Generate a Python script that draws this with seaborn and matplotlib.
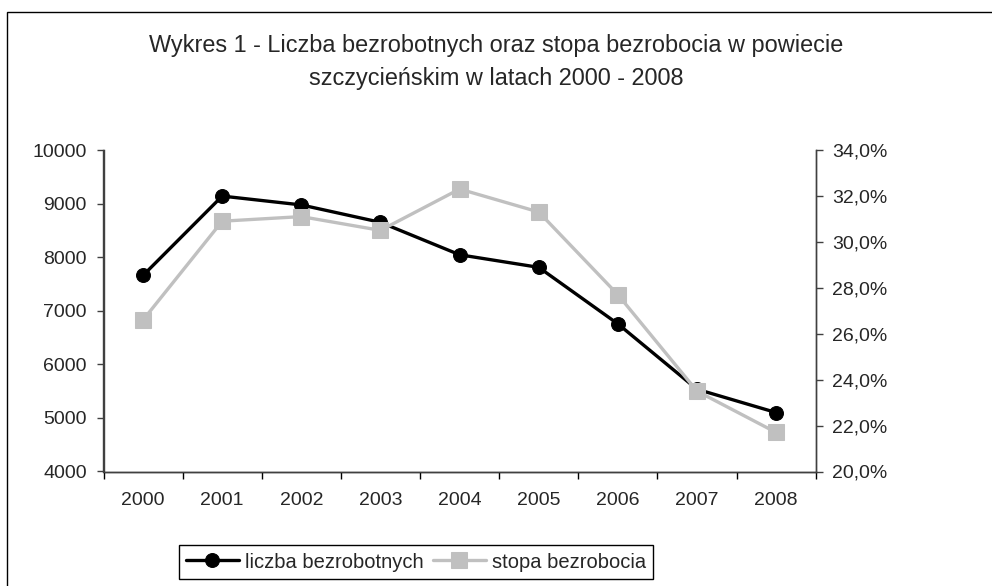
import seaborn as sns
import pandas as pd
import matplotlib.pyplot as plt
from matplotlib.patches import Rectangle
from matplotlib.ticker import FuncFormatter, MultipleLocator

# Data
years = [2000, 2001, 2002, 2003, 2004, 2005, 2006, 2007, 2008]
liczba = [7660, 9140, 8975, 8650, 8045, 7810, 6755, 5535, 5100]
stopa = [26.6, 30.9, 31.1, 30.5, 32.3, 31.3, 27.7, 23.5, 21.7]
title = 'Wykres 1 - Liczba bezrobotnych oraz stopa bezrobocia w powiecie\nszczycieńskim w latach 2000 - 2008'

df = pd.DataFrame({'rok': years, 'liczba': liczba, 'stopa': stopa})

sns.set_theme(style='white')
plt.rcParams['font.family'] = ['Liberation Sans', 'DejaVu Sans']
fs = 14

W, H = 992, 586
fig = plt.figure(figsize=(W / 100, H / 100), dpi=100)
# outer frame (left and top edges visible)
fig.patches.append(Rectangle((7 / W, -0.1), 1.2, 1 - 12 / H + 0.1, transform=fig.transFigure,
                             fill=False, edgecolor='black', linewidth=1.0))

left, right, top, bottom = 103.5, 815.7, 150, 471.5
ax = fig.add_axes([left / W, (H - bottom) / H, (right - left) / W, (bottom - top) / H])
ax2 = ax.twinx()

sns.lineplot(data=df, x='rok', y='liczba', ax=ax, color='black', linewidth=2.4,
             marker='o', markersize=10, markeredgecolor='black', label='liczba bezrobotnych', legend=False)
sns.lineplot(data=df, x='rok', y='stopa', ax=ax2, color='#c0c0c0', linewidth=2.4,
             marker='s', markersize=12, markeredgecolor='#c0c0c0', label='stopa bezrobocia', legend=False)

ax.set_xlim(1999.5, 2008.5)
ax.set_ylim(4000, 10000)
ax2.set_ylim(20, 34)
ax.set_xlabel('')
ax.set_ylabel('')
ax2.set_ylabel('')

ax.set_xticks(years)
ax.set_xticklabels([str(y) for y in years])
ax.xaxis.set_minor_locator(MultipleLocator(1, offset=0.5))
ax.tick_params(axis='x', which='major', length=0, pad=15, labelsize=fs)
ax.tick_params(axis='x', which='minor', length=5, width=1, color='black', direction='out', bottom=True)
ax.set_yticks(range(4000, 10001, 1000))
ax.tick_params(axis='y', which='major', length=5, width=1, color='#404040', direction='out', left=True,
               pad=7, labelsize=fs)
ax2.set_yticks(range(20, 35, 2))
ax2.yaxis.set_major_formatter(FuncFormatter(lambda v, p: '{0:.1f}%'.format(v).replace('.', ',')))
ax2.tick_params(axis='y', which='major', length=5, width=1, color='#404040', direction='out', right=True,
                pad=7, labelsize=fs)

for a in (ax, ax2):
    a.spines['top'].set_visible(False)
    for s in ('left', 'right', 'bottom'):
        a.spines[s].set_color('#404040')
        a.spines[s].set_linewidth(1.0)
ax.spines['bottom'].set_color('black')

fig.text(0.5, 1 - 62 / H, title, ha='center', va='center', fontsize=16.9, linespacing=1.6)

h1, l1 = ax.get_legend_handles_labels()
h2, l2 = ax2.get_legend_handles_labels()
leg = fig.legend(h1 + h2, l1 + l2, loc='center', bbox_to_anchor=(416 / W, 1 - 562 / H), ncol=2,
                 fontsize=14.5, frameon=True, fancybox=False, edgecolor='black', framealpha=1,
                 handlelength=2.6, handletextpad=0.3, columnspacing=0.5, borderpad=0.35,
                 borderaxespad=0)
leg.get_frame().set_linewidth(1.0)

plt.savefig('out.png', dpi=100)
plt.close()
